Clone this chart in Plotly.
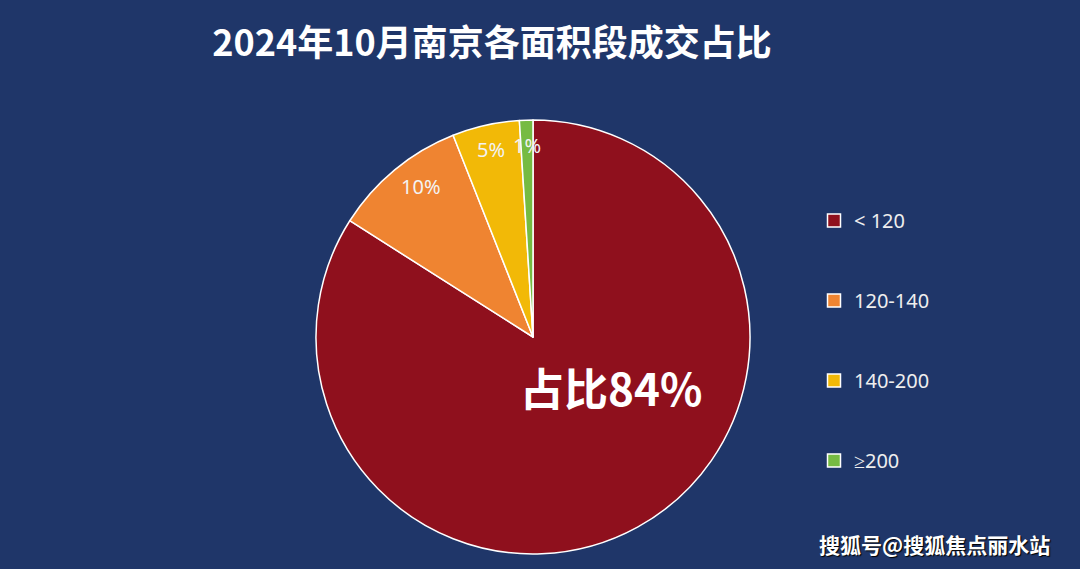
import math
import plotly.graph_objects as go

categories = ["< 120", "120-140", "140-200", "≥200"]
shares = [84, 10, 5, 1]
colors = ["#8f101d", "#ef8431", "#f2b907", "#76bb42"]
title_text = "2024年10月南京各面积段成交占比"
watermark = "搜狐号@搜狐焦点丽水站"

BG = "#1f3669"
W, H = 1080, 569
cx, cy, R = 533, 337, 217

fig = go.Figure()
fig.add_trace(go.Pie(
    labels=categories, values=shares, sort=False, direction="clockwise", rotation=0,
    marker=dict(colors=colors, line=dict(color="white", width=1.5)),
    textinfo="none",
    showlegend=False, hoverinfo="label+percent",
    domain=dict(x=[(cx - R) / W, (cx + R) / W], y=[(H - cy - R) / H, (H - cy + R) / H]),
))

# slice labels, placed along the slices
total = sum(shares)
cum = 0
for i, v in enumerate(shares):
    start = cum
    cum += v
    if i == 0:
        ang = (start + v * 0.405) / total * 2 * math.pi
        rf = 0.425
        txt, size = f"占比{v}%", 44
    elif v >= 10:
        ang = (start + v * 0.58) / total * 2 * math.pi
        rf = 0.865
        txt, size = f"{v}%", 20
    else:
        ang = (start + v / 2) / total * 2 * math.pi
        rf = 0.885
        txt, size = f"{v}%", 20
    px = cx + rf * R * math.sin(ang)
    py = cy - rf * R * math.cos(ang)
    fig.add_annotation(x=px / W, y=1 - py / H, xref="paper", yref="paper",
                       xanchor="center", yanchor="middle",
                       text=txt, showarrow=False,
                       font=dict(family="Noto Sans" if i else "Noto Sans CJK SC", size=size,
                                 color="white" if i == 0 else "#f3f3f3",
                                 weight="bold" if i == 0 else "normal"))

# legend entries
for name, c in zip(categories, colors):
    fig.add_trace(go.Scatter(x=[None], y=[None], mode="markers", name=name, legendgroup=name,
                             marker=dict(symbol="square", size=13, color=c,
                                         line=dict(color="white", width=1.5))))

fig.add_annotation(x=1052 / W, y=1 - 544 / H, xref="paper", yref="paper", xanchor="right",
                   yanchor="middle", text=watermark, showarrow=False,
                   font=dict(family="Noto Sans CJK SC", size=21, color="white", weight="bold",
                             shadow="1px 1px 1px #000"))

fig.update_layout(
    width=W, height=H, paper_bgcolor=BG, plot_bgcolor=BG,
    margin=dict(l=0, r=0, t=0, b=0),
    title=dict(text=title_text, x=492 / W, xanchor="center", y=1 - 43 / H, yanchor="middle",
               font=dict(family="Noto Sans CJK SC", size=36, color="white", weight="bold")),
    xaxis=dict(visible=False), yaxis=dict(visible=False),
    legend=dict(x=814 / W, y=1 - 201 / H, xanchor="left", yanchor="top",
                font=dict(family="Noto Sans", size=20, color="#eeeeee"),
                tracegroupgap=51, bgcolor="rgba(0,0,0,0)", itemclick=False),
)
fig.write_html("out.html", config={"displayModeBar": False},
               post_script="document.body.style.margin='0';")
